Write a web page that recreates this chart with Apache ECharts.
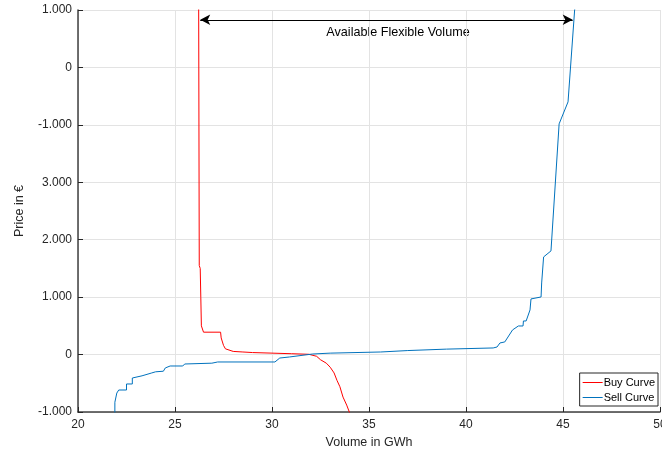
<!DOCTYPE html>
<html><head><meta charset="utf-8">
<script src="https://cdn.jsdelivr.net/npm/echarts@6/dist/echarts.min.js"></script>
<style>html,body{margin:0;padding:0;background:#fff;overflow:hidden}#c{width:662px;height:454px}</style>
</head><body><div id="c"></div>
<script>
const buyCurve = [[26.22,6100],[26.25,1550],[26.3,1500],[26.33,1000],[26.36,500],[26.45,500],[26.47,390],[27.35,390],[27.38,290],[27.45,280],[27.5,160],[27.6,100],[27.7,75],[28,55],[28.5,45],[29,35],[30,25],[31,15],[31.9,5],[32.3,-30],[32.5,-90],[32.8,-150],[33.0,-220],[33.2,-320],[33.35,-450],[33.5,-560],[33.66,-740],[33.85,-880],[34.02,-1030]];
const sellCurve = [[21.9,-1050],[21.9,-830],[22.0,-670],[22.1,-617],[22.5,-617],[22.5,-512],[22.8,-512],[22.8,-408],[23.3,-370],[23.8,-320],[24.0,-300],[24.4,-290],[24.5,-233],[24.75,-199],[25.4,-199],[25.5,-164],[26.9,-150],[27.2,-129],[30.15,-129],[30.4,-60],[30.9,-42],[32.1,10],[33,25],[35.6,45],[37,70],[39,95],[41.4,115],[41.6,132],[41.75,202],[42.0,220],[42.4,429],[42.7,498],[42.94,498],[42.96,585],[43.1,585],[43.3,777],[43.35,969],[43.87,1003],[43.9,1247],[44.0,1700],[44.38,1805],[44.8,4017],[45.26,4400],[45.6,6000],[45.7,6200]];
const yTickValues = [-1000,0,1000,2000,3000,4000,5000,6000];
const yTickLabels = ['-1.000','0','1.000','2.000','3.000','-1.000','0','1.000'];
const arrowSpan = [[26.3,5830],[45.5,5830]];
const annotation = 'Available Flexible Volume';

const chart = echarts.init(document.getElementById('c'));
const font = 'Liberation Sans, Arial, sans-serif';
chart.setOption({
  animation:false,
  textStyle:{fontFamily:font},
  grid:{left:78,right:2,top:10,bottom:42,containLabel:false,outerBoundsMode:'none'},
  xAxis:{type:'value',min:20,max:50,interval:5,name:'Volume in GWh',nameLocation:'middle',nameGap:24,
    nameTextStyle:{fontSize:12.5,color:'#262626',fontFamily:font},
    axisLine:{show:true,onZero:false,lineStyle:{color:'#404040',width:1.5}},
    axisTick:{show:true,inside:true,length:5,lineStyle:{color:'#262626'}},
    axisLabel:{fontSize:12,color:'#262626',margin:7,fontFamily:font},
    splitLine:{show:true,lineStyle:{color:'#e3e3e3',width:1}}},
  yAxis:{type:'value',min:-1000,max:6000,interval:1000,name:'Price in €',nameLocation:'middle',nameGap:52,
    nameTextStyle:{fontSize:12.5,color:'#262626',fontFamily:font},
    axisLine:{show:true,onZero:false,lineStyle:{color:'#404040',width:1.5}},
    axisTick:{show:true,inside:true,length:5,lineStyle:{color:'#262626'}},
    axisLabel:{fontSize:12,color:'#262626',margin:6,fontFamily:font,
      formatter:v=>{const i=yTickValues.indexOf(v);return i>=0?yTickLabels[i]:'';}},
    splitLine:{show:true,lineStyle:{color:'#e3e3e3',width:1}}},
  legend:{orient:'vertical',right:4,bottom:48,itemWidth:20,itemHeight:1,itemGap:4,
    icon:'rect',borderColor:'#262626',borderWidth:1,borderRadius:0,padding:[4,3,3,3],backgroundColor:'#fff',
    textStyle:{fontSize:11,color:'#000',fontFamily:font,padding:[0,0,0,-4]},
    data:['Buy Curve','Sell Curve']},
  graphic:[{type:'text',x:398,y:33,style:{text:annotation,fontSize:12.6,fill:'#000',fontFamily:font,align:'center',verticalAlign:'middle'}}],
  series:[
    {name:'Buy Curve',type:'line',data:buyCurve,showSymbol:false,symbol:'none',clip:true,
      lineStyle:{color:'#ff0000',width:1},itemStyle:{color:'#ff0000'}},
    {name:'Sell Curve',type:'line',data:sellCurve,showSymbol:false,symbol:'none',clip:true,
      lineStyle:{color:'#0072bd',width:1},itemStyle:{color:'#0072bd'}},
    {name:'arrow',type:'line',data:[],
      markLine:{silent:true,symbol:['arrow','arrow'],symbolSize:[8,10],label:{show:false},
        lineStyle:{color:'#000',width:1,type:'solid'},
        data:[[{coord:arrowSpan[0]},{coord:arrowSpan[1]}]]}}
  ]
});
</script></body></html>
